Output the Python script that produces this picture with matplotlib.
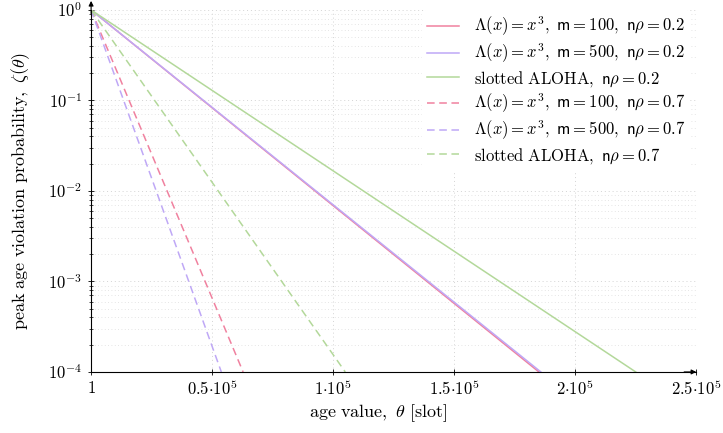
import matplotlib
matplotlib.use("Agg")
import matplotlib.pyplot as plt
from matplotlib.ticker import FixedLocator, LogLocator, NullFormatter

plt.rcParams["mathtext.fontset"] = "cm"
plt.rcParams["font.family"] = "serif"
plt.rcParams["font.serif"] = ["DejaVu Serif"]

# values (straight lines on the log scale)
decades = [1.0, 1e-1, 1e-2, 1e-3, 1e-4]
x_m100_02 = [1, 46250, 92500, 138750, 185000]
x_m500_02 = [1, 46450, 92900, 139350, 185800]
x_aloha_02 = [1, 56250, 112500, 168750, 225000]
x_m100_07 = [1, 15700, 31400, 47100, 62800]
x_m500_07 = [1, 13450, 26900, 40350, 53800]
x_aloha_07 = [1, 26250, 52500, 78750, 105000]

labels = [
    r"$\Lambda(x) = x^3,\ \mathsf{m} = 100,\ \mathsf{n}\rho = 0.2$",
    r"$\Lambda(x) = x^3,\ \mathsf{m} = 500,\ \mathsf{n}\rho = 0.2$",
    r"$\mathrm{slotted\ ALOHA},\ \mathsf{n}\rho = 0.2$",
    r"$\Lambda(x) = x^3,\ \mathsf{m} = 100,\ \mathsf{n}\rho = 0.7$",
    r"$\Lambda(x) = x^3,\ \mathsf{m} = 500,\ \mathsf{n}\rho = 0.7$",
    r"$\mathrm{slotted\ ALOHA},\ \mathsf{n}\rho = 0.7$",
]
series = [x_m100_02, x_m500_02, x_aloha_02, x_m100_07, x_m500_07, x_aloha_07]

pink = "#f0819f"
purple = "#bfa8f6"
green = "#b3d89a"
colors = [pink, purple, green, pink, purple, green]
styles = ["-", "-", "-", (0, (5, 3)), (0, (5, 3)), (0, (5, 3))]

xticks = [1, 50000, 100000, 150000, 200000, 250000]
xticklabels = [r"$1$", r"$0.5{\cdot}10^5$", r"$1{\cdot}10^5$",
               r"$1.5{\cdot}10^5$", r"$2{\cdot}10^5$", r"$2.5{\cdot}10^5$"]
yticks = [1e-4, 1e-3, 1e-2, 1e-1, 1e0]
yticklabels = [r"$10^{-4}$", r"$10^{-3}$", r"$10^{-2}$", r"$10^{-1}$", r"$10^{0}$"]

fig = plt.figure(figsize=(7.23, 4.33), dpi=100)
ax = fig.add_axes([0.126, 0.141, 0.837, 0.836])

for xs, lab, c, ls in zip(series, labels, colors, styles):
    ax.plot(xs, decades, color=c, linestyle=ls, linewidth=1.1, label=lab)

ax.set_yscale("log")
ax.set_xlim(1, 250000)
ax.set_ylim(1e-4, 1)

ax.xaxis.set_major_locator(FixedLocator(xticks))
ax.set_xticklabels(xticklabels, fontsize=12)
ax.yaxis.set_major_locator(FixedLocator(yticks))
ax.set_yticklabels(yticklabels, fontsize=12)
ax.yaxis.set_minor_locator(LogLocator(base=10, subs=range(2, 10)))
ax.yaxis.set_minor_formatter(NullFormatter())

ax.tick_params(axis="x", which="major", direction="inout", length=5,
               width=0.6, pad=3)
ax.tick_params(axis="y", which="major", direction="inout", length=5,
               width=0.6, pad=4)
ax.tick_params(axis="y", which="minor", direction="inout", length=3, width=0.5)

ax.grid(True, which="major", linestyle=(0, (1, 3)), color="#d4d4d4",
        linewidth=0.7)
ax.grid(True, which="minor", axis="y", linestyle=(0, (1, 3)), color="#dcdcdc",
        linewidth=0.6)

for s in ["top", "right"]:
    ax.spines[s].set_visible(False)
ax.spines["left"].set_linewidth(0.8)
ax.spines["bottom"].set_linewidth(0.8)
ax.annotate("", xy=(0, 1.025), xytext=(0, 0.99), xycoords="axes fraction",
            arrowprops=dict(arrowstyle="-|>", lw=0.8, color="black",
                            mutation_scale=7, shrinkA=0, shrinkB=0))
ax.annotate("", xy=(1.0, 0), xytext=(0.98, 0), xycoords="axes fraction",
            arrowprops=dict(arrowstyle="-|>", lw=0.8, color="black",
                            mutation_scale=7, shrinkA=0, shrinkB=0))

ax.set_xlabel(r"$\mathrm{age\ value},\ \theta\ \mathrm{[slot]}$", fontsize=13)
ax.set_ylabel(r"$\mathrm{peak\ age\ violation\ probability},\ \zeta(\theta)$",
              fontsize=13)
ax.xaxis.set_label_coords(0.475, -0.085)
ax.yaxis.set_label_coords(-0.097, 0.5)

leg = ax.legend(loc="upper right", fontsize=12, frameon=True, framealpha=1,
                edgecolor="white", handlelength=1.9, labelspacing=0.2,
                borderaxespad=0.0, borderpad=0.3, handletextpad=0.9,
                bbox_to_anchor=(0.99, 1.0))
leg.get_frame().set_linewidth(0)

fig.savefig("out.png", dpi=100)
